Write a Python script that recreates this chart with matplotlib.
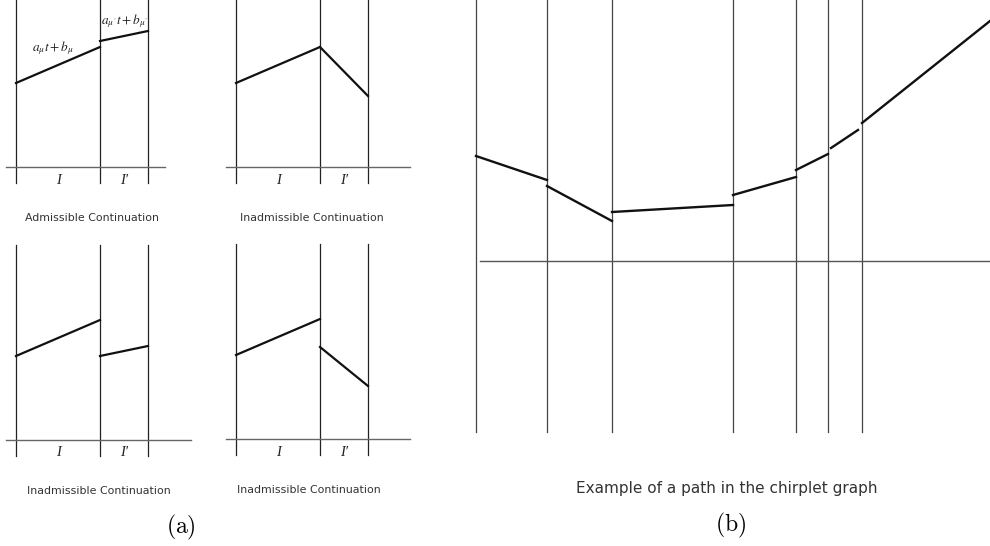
import matplotlib.pyplot as plt

W, H = 990, 546

# chirplet continuation panels: interval I = [0, 84], I' = [84, 132]
t_knots = [0, 84, 132]
first_piece = [84, 120]
cont_admissible = [126, 136]
cont_kink = [120, 71]
cont_jump_up = [84, 94]
cont_jump_down = [92, 53]

# path in the chirplet graph
breaks = [0, 71, 136, 257, 320, 352, 386]
seg_t0 = [0, 71, 136, 257, 320, 355, 386]
seg_t1 = [71, 136, 257, 320, 352, 382, 514]
seg_f0 = [105, 75, 49, 66, 91, 113, 138]
seg_f1 = [81, 40, 56, 84, 107, 131, 240]

fig = plt.figure(figsize=(W / 100, H / 100), dpi=100)


def panel(ox, oy):
    # transparent axes over the whole figure, 1 data unit = 1 pixel, origin at (ox, oy)
    ax = fig.add_axes([0, 0, 1, 1])
    ax.set_xlim(-ox, W - ox)
    ax.set_ylim(oy - H, oy)
    ax.axis('off')
    return ax


def continuation(ox, oy, second_piece, caption, axis_right, top, cap_x=76, labels=False):
    ax = panel(ox, oy)
    for t in t_knots:
        ax.plot([t, t], [-16, top], color='#222222', lw=0.9)
    ax.plot([-10, axis_right], [0, 0], color='#666666', lw=1.0)
    ax.plot(t_knots[:2], first_piece, color='#111111', lw=1.6)
    ax.plot(t_knots[1:], second_piece, color='#111111', lw=1.6)
    serif = dict(family='Liberation Serif', style='italic', fontsize=10.5,
                 color='#222222', ha='center', va='center')
    ax.text(42, -13, 'I', **serif)
    ax.text(108, -13, 'I\u2032', **serif)
    if labels:
        ax.text(37, 119, r'$a_{\mu}t+b_{\mu}$', ha='center', va='center',
                fontsize=9.5, math_fontfamily='stix', color='#222222')
        ax.text(109, 146, r"$a_{\mu^{\prime}}t+b_{\mu^{\prime}}$", ha='center',
                va='center', fontsize=9.5, math_fontfamily='stix', color='#222222')
    ax.text(cap_x, -51, caption, ha='center', va='center', fontsize=7.9,
            color='#333333')


continuation(16, 167, cont_admissible, 'Admissible Continuation', 149, 167, labels=True)
continuation(236, 167, cont_kink, 'Inadmissible Continuation', 174, 167)
continuation(16, 440, cont_jump_up, 'Inadmissible Continuation', 175, 195, cap_x=83)
continuation(236, 439, cont_jump_down, 'Inadmissible Continuation', 174, 195, cap_x=73)

# chirplet graph path
axb = panel(476, 261)
for t in breaks:
    axb.plot([t, t], [-171, 261], color='#444444', lw=0.9)
axb.plot([4, 514], [0, 0], color='#555555', lw=1.0)
for t0, t1, f0, f1 in zip(seg_t0, seg_t1, seg_f0, seg_f1):
    axb.plot([t0, t1], [f0, f1], color='#111111', lw=1.7)
axb.text(251, -227, 'Example of a path in the chirplet graph', ha='center',
         va='center', fontsize=11, color='#333333')

fig.text(181 / W, 1 - 527 / H, r'$\mathrm{(a)}$', ha='center', va='center',
         fontsize=17, math_fontfamily='cm')
fig.text(731 / W, 1 - 525 / H, r'$\mathrm{(b)}$', ha='center', va='center',
         fontsize=17, math_fontfamily='cm')

fig.savefig('out.png', dpi=100)
